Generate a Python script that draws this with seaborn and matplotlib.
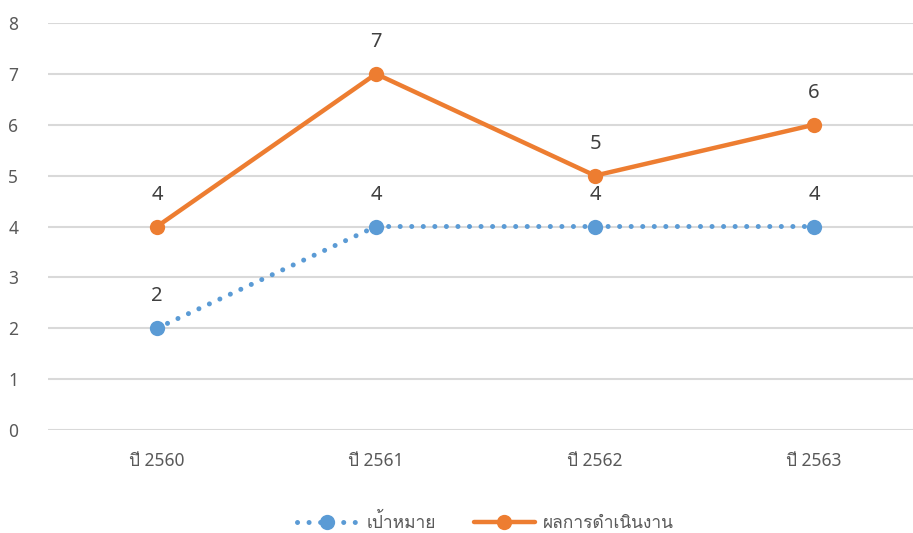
import pandas as pd
import matplotlib
import matplotlib.pyplot as plt
from matplotlib import font_manager
from matplotlib.ft2font import FT2Font
import seaborn as sns

matplotlib.use("Agg")

# data
years = ["ปี 2560", "ปี 2561", "ปี 2562", "ปี 2563"]
target = [2, 4, 4, 4]
result = [4, 7, 5, 6]
series_names = ["เป้าหมาย", "ผลการดำเนินงาน"]


def find_thai_family():
    # look for any installed font that has Thai glyphs
    for f in font_manager.fontManager.ttflist:
        try:
            ft = FT2Font(f.fname)
            if ft.get_char_index(0x0E01) and ft.get_char_index(0x0E33):
                return f.name
        except Exception:
            continue
    return None


sns.set_theme(style="white")
families = ["Noto Sans", "DejaVu Sans"]
thai = find_thai_family()
if thai:
    families = ["Noto Sans", thai, "DejaVu Sans"]
plt.rcParams["font.family"] = families

blue = "#5B9BD5"
orange = "#ED7D31"
grey = "#595959"

df = pd.DataFrame({
    "pos": list(range(len(years))) * 2,
    "value": target + result,
    "series": [series_names[0]] * len(years) + [series_names[1]] * len(years),
})

fig = plt.figure(figsize=(9.13, 5.33), dpi=100)
ax = fig.add_axes([47.5 / 913, 103 / 533, 876 / 913, 407 / 533])

sub = df[df["series"] == series_names[0]]
sns.lineplot(data=sub, x="pos", y="value", ax=ax, color=blue, linewidth=3.6,
             linestyle=(0, (0.01, 2.3)), dash_capstyle="round", marker="o",
             markersize=11, markeredgewidth=0, label=series_names[0])
sub = df[df["series"] == series_names[1]]
sns.lineplot(data=sub, x="pos", y="value", ax=ax, color=orange, linewidth=3.2,
             marker="o", markersize=11, markeredgewidth=0, label=series_names[1])

for vals in (target, result):
    for i, v in enumerate(vals):
        ax.annotate(str(v), (i, v), xytext=(0, 23), textcoords="offset points",
                    ha="center", va="center", fontsize=14.5, color="#404040")

ax.set_xlim(-0.5, 3.5)
ax.set_ylim(0, 8)
ax.set_yticks(range(0, 9))
ax.set_xticks(range(len(years)))
ax.set_xticklabels(years)
ax.set_xlabel("")
ax.set_ylabel("")
ax.yaxis.grid(True, color="#D9D9D9", linewidth=1.5)
ax.set_axisbelow(True)
for s in ax.spines.values():
    s.set_visible(False)
ax.tick_params(axis="y", labelsize=12.5, labelcolor=grey, pad=21, length=0)
ax.tick_params(axis="x", labelsize=12.5, labelcolor=grey, pad=16, length=0)

ax.legend(loc="center", bbox_to_anchor=(0.5, -0.228),
          ncol=2, frameon=False, fontsize=12.5, labelcolor=grey, handlelength=3.5,
          columnspacing=2.2, handletextpad=0.5)

fig.savefig("out.png", dpi=100)
